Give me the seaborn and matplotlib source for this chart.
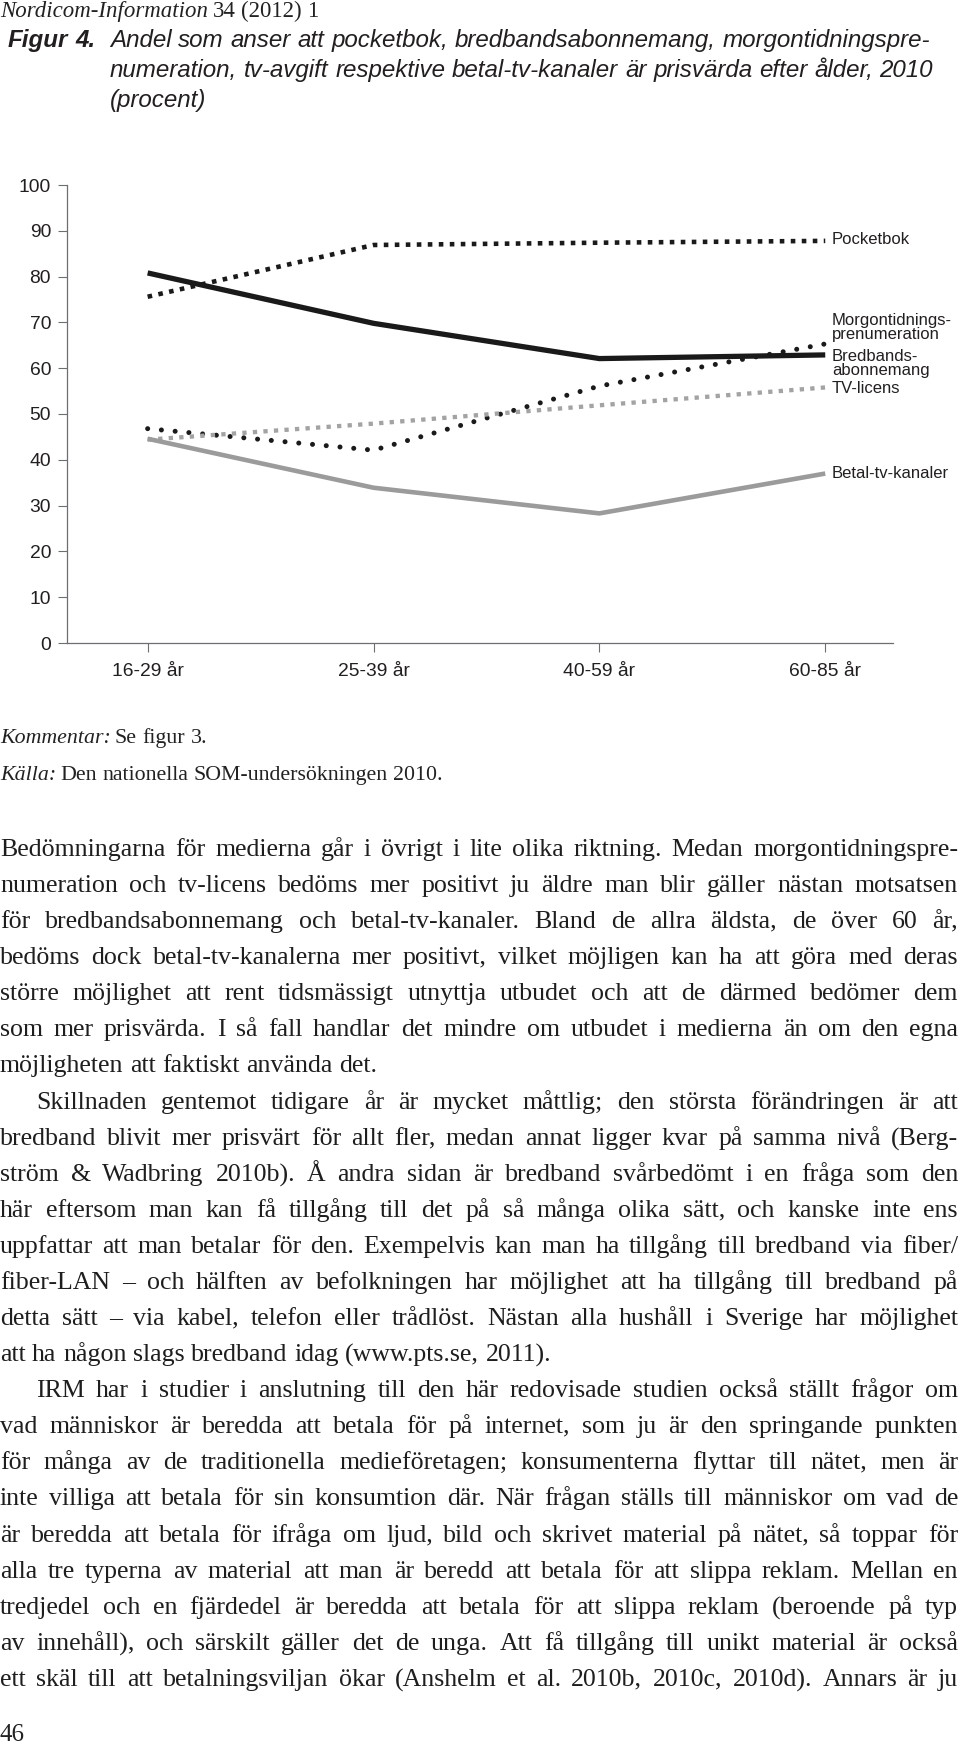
import math
import matplotlib
matplotlib.use("Agg")
import matplotlib.pyplot as plt
from matplotlib.font_manager import FontProperties
import seaborn as sns
import pandas as pd

sns.set_theme(style="white")
plt.rcParams['font.family'] = 'Liberation Sans'

# data (procent)
age_groups = ['16-29 år', '25-39 år', '40-59 år', '60-85 år']
pocketbok = [75.6, 86.9, 87.4, 87.8]
morgontidning = [46.8, 42.1, 56.1, 65.3]
bredband = [80.8, 69.8, 62.1, 62.9]
tv_licens = [44.4, 47.9, 51.9, 55.8]
betal_tv = [44.6, 33.9, 28.3, 37.0]
series_names = ['Pocketbok', 'Morgontidnings-\nprenumeration', 'Bredbands-\nabonnemang',
                'TV-licens', 'Betal-tv-kanaler']

rows = []
for name, vals in zip(series_names, [pocketbok, morgontidning, bredband, tv_licens, betal_tv]):
    for i, v in enumerate(vals):
        rows.append({'serie': name, 'pos': i, 'andel': v})
df = pd.DataFrame(rows)

# line styles
styles = {
    'Pocketbok': dict(color='#1a1a1a', lw=3.3, ls=(0, (1.0, 1.4)), cap='butt'),
    'Morgontidnings-\nprenumeration': dict(color='#1a1a1a', lw=3.6, ls=(0, (0.01, 2.75)), cap='round'),
    'Bredbands-\nabonnemang': dict(color='#1a1a1a', lw=3.8, ls='-', cap='butt'),
    'TV-licens': dict(color='#a3a3a3', lw=3.1, ls=(0, (1.0, 1.45)), cap='butt'),
    'Betal-tv-kanaler': dict(color='#9b9b9b', lw=3.3, ls='-', cap='butt'),
}
label_y = [88.1, 68.9, 61.0, 55.6, 37.1]

W, H = 960, 1745
fig = plt.figure(figsize=(W / 100, H / 100), dpi=100)
fig.patch.set_facecolor('white')

def fy(py):
    return 1 - py / H

def fx(px):
    return px / W

ax = fig.add_axes([67 / W, 1 - 643 / H, (893 - 67) / W, (643 - 185) / H])
for name in series_names:
    st = styles[name]
    sns.lineplot(data=df[df.serie == name], x='pos', y='andel', ax=ax, color=st['color'],
                 lw=st['lw'], linestyle=st['ls'], dash_capstyle=st['cap'],
                 solid_capstyle='butt', legend=False)

for name, ly in zip(series_names, label_y):
    ax.text(3.03, ly, name, ha='left', va='center', fontsize=12, color='#231f20',
            linespacing=0.93)

ax.set_xlim(-0.357, 3.30)
ax.set_ylim(0, 100)
ax.set_xticks(range(len(age_groups)))
ax.set_xticklabels(age_groups)
ax.set_yticks(range(0, 101, 10))
ax.set_xlabel('')
ax.set_ylabel('')
sns.despine(ax=ax)
for s in ['left', 'bottom']:
    ax.spines[s].set_color('#6d6e71')
    ax.spines[s].set_linewidth(0.9)
ax.tick_params(axis='both', direction='out', length=6.5, width=0.8, color='#6d6e71',
               labelsize=13.9, labelcolor='#231f20')
ax.tick_params(axis='y', pad=5, left=True)
ax.tick_params(axis='x', pad=8, bottom=True)
ax.set_facecolor('white')

renderer = fig.canvas.get_renderer()
try:
    from matplotlib.backends.backend_agg import get_hinting_flag
except ImportError:
    get_hinting_flag = None

def width_of(t):
    return t.get_window_extent(renderer).width

def snap_y(s, kw, row):
    # y (in pixels from top) that puts the drawn baseline of s on pixel row `row`,
    # so that words drawn one by one stay on one line
    try:
        fp = FontProperties(family=kw['family'], style=kw.get('style', 'normal'),
                            weight=kw.get('weight', 'normal'), size=kw['size'])
        font = renderer._prepare_font(fp)
        font.set_text(s, 0, flags=get_hinting_flag())
        w, h = font.get_width_height()
        d = font.get_descent()
        return row + h // 64 - math.floor((h - d) / 64) - d / 64
    except Exception:
        return row

def place_words(words, x0, row, kw, x1=None):
    texts = []
    for wd in words:
        t = fig.text(0, fy(snap_y(wd, kw, row)), wd, va='baseline', ha='left',
                     linespacing=1.0, **kw)
        texts.append(t)
    widths = [width_of(t) for t in texts]
    if x1 is not None and len(words) > 1:
        gap = (x1 - x0 - sum(widths)) / (len(words) - 1)
    else:
        a = fig.text(0, 0, 'a a', **kw)
        b = fig.text(0, 0, 'aa', **kw)
        gap = width_of(a) - width_of(b)
        a.remove()
        b.remove()
    x = x0
    for t, wdt in zip(texts, widths):
        t.set_x(fx(x))
        x += wdt + gap
    return x - gap

serif = 'Liberation Serif'
sans = 'Liberation Sans'

# header
hk = dict(family=serif, size=16.5, color='#222')
xe = place_words(['Nordicom-Information'], 0, 17, dict(hk, style='italic'))
place_words(['34', '(2012)', '1'], xe + 4.5, 17, hk)

# caption
caption = ['Andel som anser att pocketbok, bredbandsabonnemang, morgontidningspre-',
           'numeration, tv-avgift respektive betal-tv-kanaler är prisvärda efter ålder, 2010',
           '(procent)']
probe = fig.text(0, 0, caption[0], family=sans, style='italic', size=10)
cap_size = 10 * (934 - 110) / width_of(probe)
probe.remove()
cap_kw = dict(family=sans, style='italic', size=cap_size, color='#231f20')
place_words(['Figur', '4.'], 8, 47, dict(cap_kw, weight='bold'))
for i, line in enumerate(caption):
    place_words(line.split(' '), 110, 47 + 30 * i, cap_kw)

# notes under the chart
note_kw = dict(family=serif, size=15.75, color='#222')
xe = place_words(['Kommentar:'], 0, 743, dict(note_kw, style='italic'))
place_words(['Se', 'figur', '3.'], xe + 4, 743, note_kw)
xe = place_words(['Källa:'], 0, 780, dict(note_kw, style='italic'))
place_words('Den nationella SOM-undersökningen 2010.'.split(' '), xe + 4, 780, note_kw)

# body text
p1 = [
    "Bedömningarna för medierna går i övrigt i lite olika riktning. Medan morgontidningspre-",
    "numeration och tv-licens bedöms mer positivt ju äldre man blir gäller nästan motsatsen",
    "för bredbandsabonnemang och betal-tv-kanaler. Bland de allra äldsta, de över 60 år,",
    "bedöms dock betal-tv-kanalerna mer positivt, vilket möjligen kan ha att göra med deras",
    "större möjlighet att rent tidsmässigt utnyttja utbudet och att de därmed bedömer dem",
    "som mer prisvärda. I så fall handlar det mindre om utbudet i medierna än om den egna",
    "möjligheten att faktiskt använda det.",
]
p2 = [
    "Skillnaden gentemot tidigare år är mycket måttlig; den största förändringen är att",
    "bredband blivit mer prisvärt för allt fler, medan annat ligger kvar på samma nivå (Berg-",
    "ström & Wadbring 2010b). Å andra sidan är bredband svårbedömt i en fråga som den",
    "här eftersom man kan få tillgång till det på så många olika sätt, och kanske inte ens",
    "uppfattar att man betalar för den. Exempelvis kan man ha tillgång till bredband via fiber/",
    "fiber-LAN – och hälften av befolkningen har möjlighet att ha tillgång till bredband på",
    "detta sätt – via kabel, telefon eller trådlöst. Nästan alla hushåll i Sverige har möjlighet",
    "att ha någon slags bredband idag (www.pts.se, 2011).",
]
p3 = [
    "IRM har i studier i anslutning till den här redovisade studien också ställt frågor om",
    "vad människor är beredda att betala för på internet, som ju är den springande punkten",
    "för många av de traditionella medieföretagen; konsumenterna flyttar till nätet, men är",
    "inte villiga att betala för sin konsumtion där. När frågan ställs till människor om vad de",
    "är beredda att betala för ifråga om ljud, bild och skrivet material på nätet, så toppar för",
    "alla tre typerna av material att man är beredd att betala för att slippa reklam. Mellan en",
    "tredjedel och en fjärdedel är beredda att betala för att slippa reklam (beroende på typ",
    "av innehåll), och särskilt gäller det de unga. Att få tillgång till unikt material är också",
    "ett skäl till att betalningsviljan ökar (Anshelm et al. 2010b, 2010c, 2010d). Annars är ju",
]
body_kw = dict(family=serif, size=18.6, color='#1e1e1e')

y = 856
for pi, para in enumerate([p1, p2, p3]):
    for li, line in enumerate(para):
        x0 = 36 if (li == 0 and pi > 0) else 0
        last = li == len(para) - 1 and pi < 2
        place_words(line.split(' '), x0, round(y), body_kw, None if last else 958)
        y += 36.08

place_words(['46'], 0, 1741, dict(family=serif, size=18, color='#222'))

fig.savefig('out.png', dpi=100, facecolor='white')
